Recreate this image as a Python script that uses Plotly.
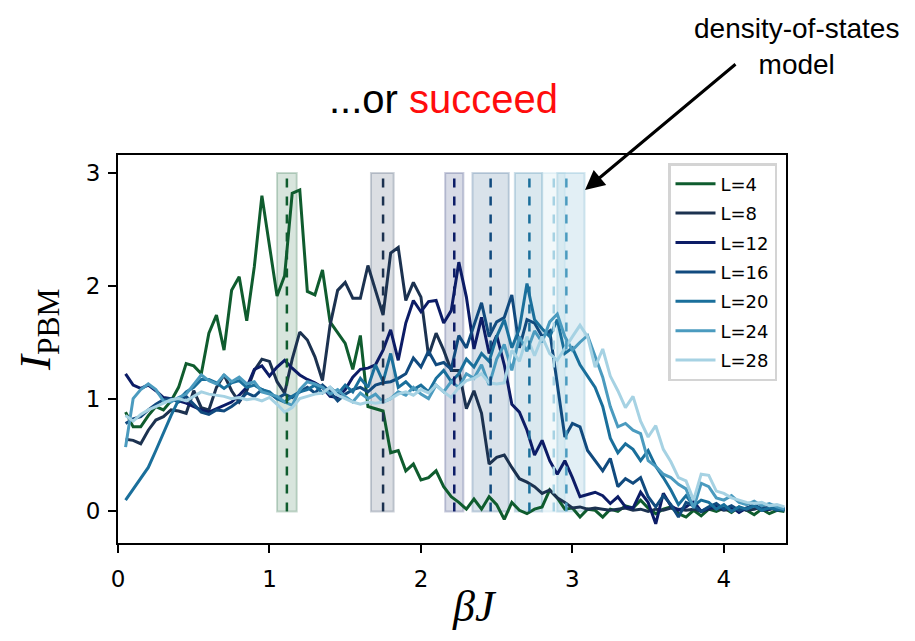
import plotly.graph_objects as go

BETA = [0.05, 0.10, 0.15, 0.20, 0.25, 0.30, 0.35, 0.40, 0.45, 0.50,
        0.55, 0.60, 0.65, 0.70, 0.75, 0.80, 0.85, 0.90, 0.95, 1.00,
        1.05, 1.10, 1.15, 1.20, 1.25, 1.30, 1.35, 1.40, 1.45, 1.50,
        1.55, 1.60, 1.65, 1.70, 1.75, 1.80, 1.85, 1.90, 1.95, 2.00,
        2.05, 2.10, 2.15, 2.20, 2.25, 2.30, 2.35, 2.40, 2.45, 2.50,
        2.55, 2.60, 2.65, 2.70, 2.75, 2.80, 2.85, 2.90, 2.95, 3.00,
        3.05, 3.10, 3.15, 3.20, 3.25, 3.30, 3.35, 3.40, 3.45, 3.50,
        3.55, 3.60, 3.65, 3.70, 3.75, 3.80, 3.85, 3.90, 3.95, 4.00,
        4.05, 4.10, 4.15, 4.20, 4.25, 4.30, 4.35, 4.40]

I_L4 = [0.88, 0.75, 0.75, 0.85, 0.93, 0.90, 0.98, 1.10, 1.31, 1.29,
        1.22, 1.58, 1.74, 1.43, 1.96, 2.08, 1.69, 2.17, 2.80, 2.36,
        1.91, 2.09, 2.82, 2.85, 1.95, 1.92, 2.14, 1.68, 1.59, 1.49,
        1.26, 1.56, 0.93, 0.91, 0.89, 0.52, 0.54, 0.36, 0.42, 0.28,
        0.30, 0.36, 0.22, 0.13, 0.08, 0.02, 0.11, 0.02, 0.13, 0.06,
        -0.07, 0.08, 0.01, -0.02, 0.02, 0.04, 0.19, 0.12, 0.02, 0.03,
        -0.05, 0.02, 0.01, -0.05, 0.02, 0.00, 0.05, 0.03, 0.10, 0.03,
        -0.02, 0.02, 0.04, -0.02, -0.05, 0.01, -0.04, 0.02, 0.00, 0.03,
        -0.01, 0.04, 0.01, -0.03, 0.02, -0.02, 0.01, 0.00]

I_L8 = [0.64, 0.63, 0.60, 0.72, 0.81, 0.84, 0.90, 0.89, 0.87, 1.07,
        0.92, 0.90, 1.10, 1.21, 1.07, 0.97, 1.07, 1.25, 1.35, 1.33,
        1.15, 1.05, 1.35, 1.59, 1.52, 1.37, 1.16, 1.65, 1.96, 2.03,
        1.89, 1.89, 2.18, 1.96, 1.74, 2.29, 2.34, 1.87, 2.03, 1.90,
        1.38, 1.58, 1.43, 1.25, 1.25, 0.91, 1.07, 0.87, 0.42, 0.48,
        0.50, 0.39, 0.29, 0.26, 0.22, 0.16, 0.19, 0.12, 0.08, 0.03,
        0.04, 0.02, 0.03, 0.02, 0.01, 0.02, 0.03, 0.01, 0.02, 0.00,
        0.02, 0.01, 0.03, 0.02, 0.01, 0.02, 0.00, 0.02, 0.03, 0.01,
        0.02, 0.03, 0.01, 0.02, 0.04, 0.02, 0.03, 0.01]

I_L12 = [1.22, 1.12, 1.09, 1.12, 1.07, 1.01, 1.00, 0.98, 0.96, 0.93,
         0.90, 0.88, 0.91, 0.94, 0.97, 1.03, 1.10, 1.26, 1.29, 1.20,
         1.28, 1.34, 1.27, 1.21, 1.17, 1.14, 1.10, 1.02, 1.01, 1.08,
         1.19, 1.26, 1.27, 1.30, 1.43, 1.61, 1.34, 1.67, 1.87, 1.77,
         1.86, 1.87, 1.67, 1.78, 2.21, 1.90, 1.44, 1.72, 1.40, 1.56,
         1.30, 0.95, 0.88, 0.72, 0.50, 0.63, 0.45, 0.33, 0.45, 0.30,
         0.13, 0.15, 0.17, 0.14, 0.07, 0.13, 0.04, 0.03, 0.17, 0.08,
         -0.11, 0.16, 0.05, 0.01, 0.04, 0.09, 0.00, 0.03, 0.05, 0.02,
         0.04, -0.01, 0.03, 0.05, 0.01, 0.02, 0.04, 0.02]

I_L16 = [0.78, 0.82, 0.84, 0.90, 0.95, 0.99, 1.00, 0.97, 1.02, 0.95,
         0.88, 0.86, 0.90, 0.89, 0.93, 0.98, 1.05, 1.02, 1.08, 1.05,
         1.00, 1.04, 1.01, 1.06, 1.10, 1.05, 1.12, 1.06, 0.98, 1.04,
         1.08, 1.10, 1.06, 1.12, 1.14, 1.15, 1.18, 1.22, 1.36, 1.28,
         1.42, 1.30, 1.32, 1.26, 1.56, 1.45, 1.66, 1.85, 1.55, 1.68,
         1.72, 1.92, 1.45, 1.70, 1.67, 1.55, 1.60, 1.13, 0.66, 0.78,
         0.75, 0.54, 0.45, 0.36, 0.47, 0.22, 0.29, 0.25, 0.30, 0.13,
         0.04, 0.14, 0.06, -0.05, 0.08, 0.05, 0.00, 0.04, 0.07, 0.02,
         0.05, 0.01, 0.03, 0.06, 0.02, 0.04, 0.01, 0.03]

I_L20 = [0.10, 0.20, 0.30, 0.39, 0.54, 0.70, 0.85, 0.99, 1.06, 1.10,
         1.17, 1.17, 1.14, 1.09, 1.14, 1.16, 1.10, 1.12, 1.08, 1.06,
         1.00, 0.97, 1.02, 1.06, 1.08, 1.12, 1.05, 1.10, 1.04, 1.12,
         1.06, 1.18, 1.10, 1.30, 1.15, 1.40, 1.10, 1.15, 1.08, 1.12,
         1.06, 1.18, 1.25, 1.15, 1.22, 1.35, 1.28, 1.40, 1.33, 1.55,
         1.70, 1.45, 1.62, 2.02, 1.70, 1.62, 1.55, 1.70, 1.40, 1.45,
         1.30, 1.20, 1.10, 0.93, 0.65, 0.52, 0.60, 0.55, 0.45, 0.54,
         0.40, 0.30, 0.19, 0.06, 0.14, 0.05, 0.10, 0.08, 0.02, 0.06,
         0.00, 0.04, 0.02, 0.05, 0.01, 0.03, 0.02, 0.01]

I_L24 = [0.57, 1.00, 1.08, 1.13, 1.08, 0.98, 0.97, 1.01, 1.04, 1.12,
         1.21, 1.16, 1.13, 1.21, 1.15, 1.19, 1.13, 1.15, 1.06, 1.04,
         1.02, 0.97, 0.94, 1.08, 1.15, 1.13, 1.10, 1.04, 1.08, 1.02,
         0.97, 1.05, 1.00, 1.04, 0.97, 1.00, 1.06, 1.03, 1.10, 1.04,
         1.00, 1.12, 1.06, 1.15, 1.10, 1.22, 1.18, 1.30, 1.12, 1.35,
         1.48, 1.25, 1.55, 1.42, 1.60, 1.50, 1.68, 1.75, 1.55, 1.43,
         1.50, 1.56, 1.38, 1.19, 0.93, 0.75, 0.78, 0.72, 0.69, 0.45,
         0.40, 0.33, 0.30, 0.24, 0.20, 0.03, 0.25, 0.22, 0.12, 0.10,
         0.14, 0.08, 0.06, 0.09, 0.05, 0.07, 0.04, 0.02]

I_L28 = [0.85, 0.80, 0.86, 0.90, 0.93, 0.96, 0.99, 1.00, 0.98, 1.02,
         1.06, 1.04, 1.03, 1.02, 1.00, 1.01, 0.99, 1.00, 0.98, 1.01,
         0.95, 0.88, 0.92, 1.00, 1.02, 1.04, 1.05, 1.10, 1.03, 1.00,
         0.97, 0.95, 0.97, 0.96, 0.97, 1.00, 1.04, 1.06, 1.03, 1.08,
         1.05, 1.12, 1.06, 1.01, 1.10, 1.16, 1.18, 1.22, 1.14, 1.13,
         1.14, 1.43, 1.33, 1.55, 1.38, 1.55, 1.40, 1.34, 1.45, 1.55,
         1.65, 1.55, 1.28, 1.44, 1.20, 1.07, 0.92, 1.02, 0.80, 0.66,
         0.76, 0.55, 0.44, 0.30, 0.27, 0.10, 0.33, 0.32, 0.18, 0.16,
         0.12, 0.10, 0.08, 0.07, 0.08, 0.05, 0.06, 0.04]

LABELS = ["L=4", "L=8", "L=12", "L=16", "L=20", "L=24", "L=28"]
SERIES = [I_L4, I_L8, I_L12, I_L16, I_L20, I_L24, I_L28]
COLORS = ["#0f5c2e", "#1c3250", "#0c1c66", "#114a7e", "#1a6f9b", "#4b9bbf", "#a6d2e3"]

# density-of-states model prediction (centre and uncertainty band) per L
DOS_CENTER = [1.115, 1.75, 2.22, 2.46, 2.716, 2.96, 2.877]
DOS_LOW = [1.05, 1.67, 2.16, 2.34, 2.62, 2.90, 2.80]
DOS_HIGH = [1.18, 1.82, 2.28, 2.58, 2.80, 3.08, 2.95]

X_TICKS = [0, 1, 2, 3, 4]
Y_TICKS = [0, 1, 2, 3]

# The page body has an 8px margin, so the figure is drawn 8px in from the
# window's top-left corner; sizes below are chosen so the plot area lands at
# window pixels 118..786 (x) and 155..543 (y).
OFF = 8
FIG_W, FIG_H = 915 - OFF, 641 - OFF
L, R, T, B = 118, 786, 155, 543          # plot area, window pixels
W, H = R - L, B - T


def px(xp):
    return (xp - L) / W


def py(yp):
    return (B - yp) / H


def rgba(hexc, a):
    h = hexc.lstrip("#")
    r, g, b = int(h[0:2], 16), int(h[2:4], 16), int(h[4:6], 16)
    return f"rgba({r},{g},{b},{a})"


fig = go.Figure()

for lab, ys, col in zip(LABELS, SERIES, COLORS):
    fig.add_trace(go.Scatter(x=BETA, y=ys, mode="lines", name=lab, legendgroup=lab,
                             line=dict(color=col, width=3)))

for c, lo, hi, col in zip(DOS_CENTER, DOS_LOW, DOS_HIGH, COLORS):
    fig.add_shape(type="rect", xref="x", yref="y", x0=lo, x1=hi, y0=0, y1=3,
                  fillcolor=rgba(col, 0.16), line=dict(color=rgba(col, 0.22), width=2),
                  layer="below")
    fig.add_shape(type="line", xref="x", yref="y", x0=c, x1=c, y0=0, y1=3,
                  line=dict(color=col, width=2.5, dash="dash"), layer="above")

axis_common = dict(showline=True, linecolor="black", linewidth=1.8, mirror=True,
                   ticks="outside", ticklen=8, tickwidth=1.8, tickcolor="black",
                   showgrid=False, zeroline=False,
                   tickfont=dict(family="DejaVu Sans", size=23, color="black"))

fig.update_xaxes(range=[0, 4.41], tickvals=X_TICKS, ticklabelstandoff=6, **axis_common)
fig.update_yaxes(range=[-0.28, 3.16], tickvals=Y_TICKS, ticklabelstandoff=3, **axis_common)

fig.update_layout(
    width=FIG_W, height=FIG_H,
    margin=dict(l=L - OFF, r=FIG_W - (R - OFF), t=T - OFF, b=FIG_H - (B - OFF),
                autoexpand=False),
    paper_bgcolor="white", plot_bgcolor="white",
    showlegend=True,
    legend=dict(x=px(777), xanchor="right", y=py(163), yanchor="top",
                bgcolor="white", bordercolor="#d4d4d4", borderwidth=2.5,
                font=dict(family="DejaVu Sans", size=18, color="black"),
                tracegroupgap=3, itemwidth=40),
    annotations=[
        dict(text="...or <span style='color:#ff0d0d'>succeed</span>",
             xref="paper", yref="paper", x=px(443), y=py(99),
             xanchor="center", yanchor="middle", showarrow=False,
             font=dict(family="Liberation Sans", size=40, color="black")),
        dict(text="density-of-states<br>model",
             xref="paper", yref="paper", x=px(796), y=py(46),
             xanchor="center", yanchor="middle", showarrow=False,
             font=dict(family="Liberation Sans", size=28, color="black")),
        dict(text="", xref="paper", yref="paper",
             x=px(585), y=py(190),
             ax=152, ay=-127, axref="pixel", ayref="pixel",
             showarrow=True, arrowhead=2, arrowsize=1.3, arrowwidth=3,
             arrowcolor="black"),
        dict(text="<i>I</i><sub>PBM</sub>", xref="paper", yref="paper",
             x=px(38), y=py(330), textangle=-90,
             xanchor="center", yanchor="middle", showarrow=False,
             font=dict(family="Liberation Serif", size=45, color="black")),
        dict(text="<i>βJ</i>", xref="paper", yref="paper",
             x=px(474), y=py(606),
             xanchor="center", yanchor="middle", showarrow=False,
             font=dict(family="Liberation Serif", size=44, color="black")),
    ],
)

fig.write_html("out.html")
